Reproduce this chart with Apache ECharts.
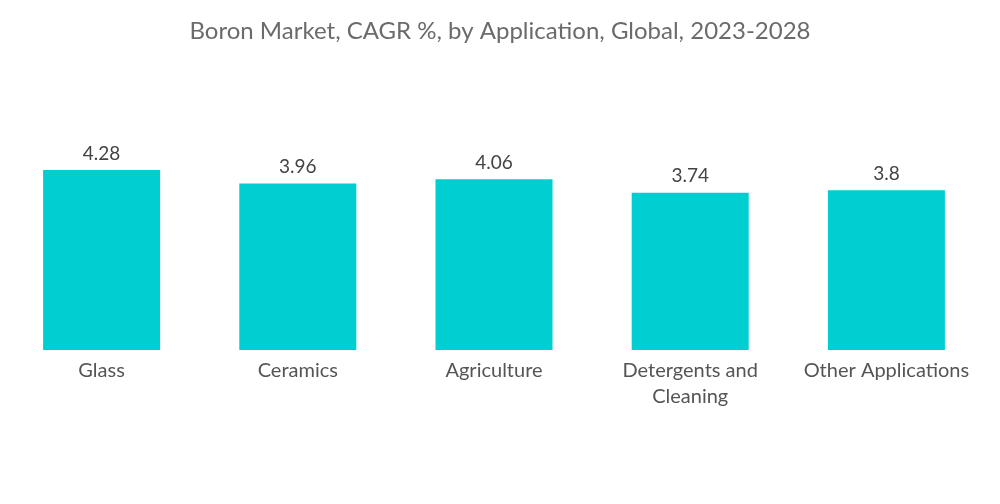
<!DOCTYPE html>
<html>
<head>
<meta charset="utf-8">
<script src="https://cdn.jsdelivr.net/npm/echarts@6/dist/echarts.min.js"></script>
<style>html,body{margin:0;padding:0;background:#fff}#c{width:1000px;height:504px}</style>
</head>
<body>
<div id="c"></div>
<script>
const categories = ["Glass", "Ceramics", "Agriculture", "Detergents and\nCleaning", "Other Applications"];
const values = [4.28, 3.96, 4.06, 3.74, 3.8];
const titleText = "Boron Market, CAGR %, by Application, Global, 2023-2028";

const chart = echarts.init(document.getElementById('c'));
chart.setOption({
  animation: false,
  title: {
    text: titleText,
    left: 'center',
    top: 14,
    textStyle: { color: '#6b6b6b', fontSize: 24, fontWeight: 'normal', fontFamily: 'Lato, sans-serif' }
  },
  grid: { left: 3.5, right: 15.5, top: 139.7, bottom: 154, containLabel: false },
  xAxis: {
    type: 'category',
    data: categories,
    axisLine: { show: false },
    axisTick: { show: false },
    axisLabel: { color: '#555', fontSize: 20, fontFamily: 'Lato, sans-serif', margin: 8, lineHeight: 26, interval: 0 }
  },
  yAxis: { type: 'value', min: 0, max: 5, show: false, splitLine: { show: false } },
  series: [{
    type: 'bar',
    data: values,
    barWidth: 117,
    itemStyle: { color: '#00CED1' },
    label: { show: true, position: 'top', distance: 7, color: '#444', fontSize: 19, fontFamily: 'Lato, sans-serif' }
  }]
});
</script>
</body>
</html>
